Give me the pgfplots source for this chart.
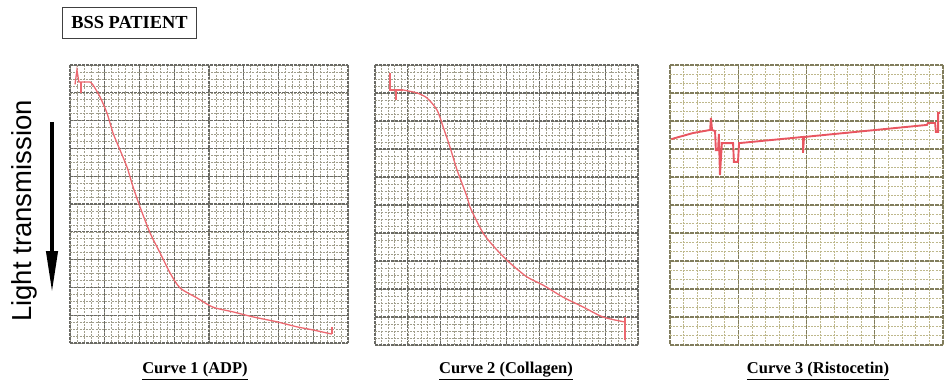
\documentclass[border=0pt]{standalone}
\usepackage{fontspec}
\setmainfont{Liberation Serif}
\newfontfamily\labelsans{Liberation Sans}
\usepackage{pgfplots}
\pgfplotsset{compat=1.18}
\usetikzlibrary{arrows.meta}

\definecolor{tracered}{RGB}{236,104,112}
\definecolor{tracered3}{RGB}{232,86,96}
\definecolor{gridmajor}{RGB}{128,124,92}
\definecolor{gridminor}{RGB}{190,184,140}
\definecolor{griddark}{RGB}{105,105,100}
\definecolor{gridgray}{RGB}{160,158,140}

\pgfplotsset{
  chartpaper/.style={
    scale only axis, anchor=south west,
    xmin=0, xmax=100, ymin=0, ymax=100, y dir=reverse,
    axis line style={draw=none},
    major tick length=0pt, minor tick length=0pt,
    xticklabels={}, yticklabels={},
    xtick={0,25,...,100}, ytick={0,10,...,100},
    minor xtick={0,5,...,100}, minor ytick={0,3.333,...,100},
    grid=both,
    major grid style={draw=gridmajor, line width=1.1pt, dash pattern=on 4pt off 1pt},
    minor grid style={draw=gridminor, line width=0.6pt, dash pattern=on 2pt off 1.2pt},
    clip=false,
  },
  darkpaper/.style={
    chartpaper,
    xtick={0,12.5,...,100}, ytick={0,10,...,100},
    minor xtick={0,2.5,...,100}, minor ytick={0,2.5,...,100},
    major grid style={draw=griddark, line width=1.1pt, dash pattern=on 3pt off 1pt},
    minor grid style={draw=gridgray, line width=0.6pt, dash pattern=on 2pt off 1.2pt},
  },
  trace/.style={tracered, line width=1.3pt},
}

\begin{document}
\begin{tikzpicture}
\useasboundingbox (0pt,0pt) rectangle (944pt,386pt);

% patient tag
\node[draw=black!75, line width=1.1pt, inner xsep=9pt, minimum height=31pt,
      font=\fontsize{18.4}{20}\selectfont\bfseries] at (129.5pt,363pt) {BSS PATIENT};

% y-axis description with arrow
\node[rotate=90, font=\labelsans\fontsize{27.5}{30}\selectfont] at (24pt,175pt) {Light transmission};
\draw[line width=4pt, -{Triangle[length=42pt, width=11pt]}] (52pt,264pt) -- (52pt,93pt);

% Curve 1: ADP
\begin{axis}[darkpaper, at={(70pt,43pt)}, width=278pt, height=278pt]
\addplot[trace] coordinates {(1.8,7.0) (2.5,1.8) (3.2,6.1) (7.2,6.1)};
\addplot[trace, smooth, tension=0.45] coordinates {
  (7.2,6.1) (8.3,7.2) (10.8,11.5) (13.3,17.3)
  (15.5,24.5) (18.0,30.6) (20.5,36.7) (22.7,43.9) (25.2,51.1) (28.8,60.4)
  (32.4,67.6) (36.0,74.8) (39.6,80.2) (45.7,83.8) (51.4,87.1) (58.6,88.8)
  (65.8,90.6) (74.5,92.4) (81.7,94.2) (87.4,95.3) (94.2,96.8)
};
\addplot[trace] coordinates {(4.0,6.1) (4.0,10.1)};
\addplot[trace] coordinates {(94.2,94.4) (94.2,96.8)};
\end{axis}

% Curve 2: Collagen
\begin{axis}[darkpaper, at={(375pt,41pt)}, width=263pt, height=280pt]
\addplot[trace] coordinates {(5.7,2.9) (5.7,8.9) (10.6,8.9)};
\addplot[trace, smooth, tension=0.45] coordinates {
  (10.6,8.9) (16.0,10.0) (19.8,11.8) (23.6,16.1)
  (25.9,22.1) (28.5,29.3) (31.2,37.5) (35.0,47.1) (36.1,50.7) (41.1,60.0)
  (46.4,66.1) (51.3,70.7) (57.8,75.7) (63.9,78.6) (71.5,82.9) (79.1,86.4)
  (86.7,90.0) (95.1,91.8)
};
\addplot[trace] coordinates {(8.0,8.9) (8.0,12.5)};
\addplot[trace] coordinates {(95.1,90.0) (95.1,98.2)};
\end{axis}

% Curve 3: Ristocetin
\begin{axis}[chartpaper, at={(670pt,41pt)}, width=273pt, height=280pt]
\addplot[tracered3, line width=1.9pt] coordinates {
  (0.5,26.5) (1.8,26.1) (8.4,24.3) (14.7,23.2) (15.0,18.9) (15.4,23.2)
  (16.5,23.6) (16.8,30.4) (17.6,30.4) (17.9,24.6) (18.3,39.3) (19.0,27.9)
  (23.1,27.9) (23.4,34.6) (24.9,34.6) (25.3,27.9) (48.7,25.7) (48.7,31.4)
  (49.1,25.7) (94.1,21.4) (94.5,20.7) (97.1,20.7) (97.4,23.9) (98.2,23.9)
  (98.2,17.1) (98.9,17.1)
};
\end{axis}

% curve captions
\begin{scope}[every node/.style={font=\fontsize{16.5}{18}\selectfont\bfseries}]
  \node at (195pt,15pt) {\underline{Curve 1 (ADP)}};
  \node at (506pt,15pt) {\underline{Curve 2 (Collagen)}};
  \node at (818pt,15pt) {\underline{Curve 3 (Ristocetin)}};
\end{scope}
\end{tikzpicture}
\end{document}
